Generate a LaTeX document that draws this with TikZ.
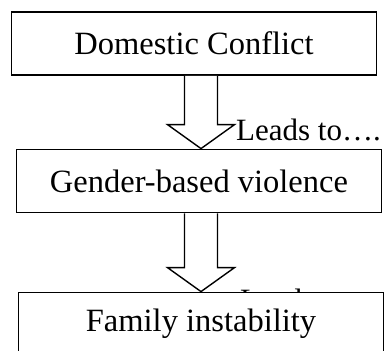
\documentclass[tikz,border=0pt]{standalone}
\usepackage{fontspec}
\setmainfont{Liberation Serif}

\tikzset{
  stagebox/.style={draw, line width=1.8pt, fill=white, inner sep=0pt,
    minimum width=365pt, minimum height=63pt, font=\fontsize{32.5}{39}\selectfont},
  leadstext/.style={inner sep=0pt, anchor=base west, font=\fontsize{31}{37}\selectfont},
  hollow/.style={draw, line width=1.4pt, line join=miter, fill=white}
}

\begin{document}
\begin{tikzpicture}[x=1pt, y=-1pt]

\def\sw{16.5pt}; % half shaft
\def\hw{33.5pt}; % half head
\def\hl{24pt}; % head length

\useasboundingbox (0,0) rectangle (387,350);

\coordinate (ax) at (201,0); % arrow axis

\node[stagebox] (dc) at (194,43.5) {Domestic Conflict};
\node[stagebox] (gbv) at (199,181) {Gender-based violence};

\node[leadstext] (l1) at (236,140) {Leads to….};
\node[leadstext] (l2) at (240,310) {Leads to….};

\node[stagebox] (fi) at (201,324) {Family instability};

\foreach \a/\b in {dc/gbv, gbv/fi}
  \draw[hollow] ([xshift=-\sw]\a.south -| ax) -- ([xshift=-\sw, yshift=\hl]\b.north -| ax)
    -- ([xshift=-\hw, yshift=\hl]\b.north -| ax) -- (\b.north -| ax)
    -- ([xshift=\hw, yshift=\hl]\b.north -| ax) -- ([xshift=\sw, yshift=\hl]\b.north -| ax)
    -- ([xshift=\sw]\a.south -| ax);

\end{tikzpicture}
\end{document}
